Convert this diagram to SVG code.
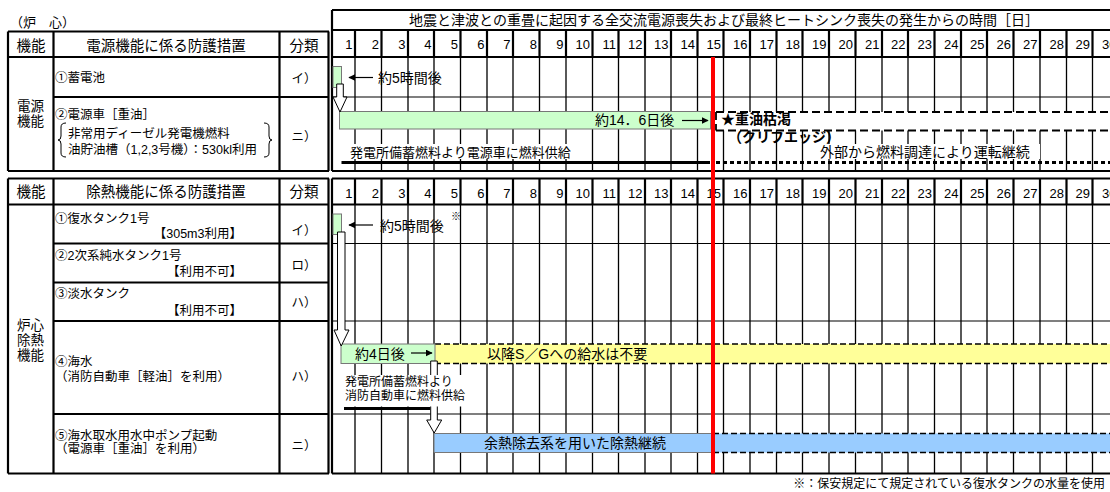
<svg xmlns="http://www.w3.org/2000/svg" width="1110" height="492" viewBox="0 0 1110 492">
<style>
text{font-family:"Liberation Sans","Noto Sans CJK JP",sans-serif;fill:#000}
.h{font-size:14.5px}
.h2{font-size:13.5px}
.t{font-size:12.5px}
.tl{font-size:14px}
.num{font-size:13px;text-anchor:end}
.c{text-anchor:middle}
.thick{stroke:#000;stroke-width:2.2;fill:none}
.thin{stroke:#000;stroke-width:1.2;fill:none}
.vl{stroke:#000;stroke-width:1.3}
.vh{stroke:#000;stroke-width:2.2}
.dash{stroke:#000;stroke-width:1.8;stroke-dasharray:8 4;fill:none}
.green{fill:#ccffcc;stroke:#777;stroke-width:1}
.blk{fill:#fff;stroke:#000;stroke-width:1}
</style>
<defs>
<marker id="ah" viewBox="0 0 10 10" refX="9" refY="5" markerWidth="7" markerHeight="7" orient="auto" markerUnits="userSpaceOnUse"><path d="M0,0 L10,5 L0,10 Z" fill="#000"/></marker>
</defs>
<rect width="1110" height="492" fill="#fff"/>

<!-- grid: timeline vertical day lines -->
<g id="grid">
<path class="vh" d="M355,31V57M381.5,31V57M408,31V57M434,31V57M460.5,31V57M487,31V57M513,31V57M539.5,31V57M566,31V57M592.5,31V57M618.5,31V57M645,31V57M671,31V57M697.5,31V57M723.5,31V57M750,31V57M776.5,31V57M802.5,31V57M829,31V57M855.5,31V57M882,31V57M908,31V57M934.5,31V57M961,31V57M987,31V57M1013.5,31V57M1040,31V57M1066.5,31V57M1092.5,31V57"/>
<path class="vl" d="M355,57V171M381.5,57V171M408,57V171M434,57V171M460.5,57V171M487,57V171M513,57V171M539.5,57V171M566,57V171M592.5,57V171M618.5,57V171M645,57V171M671,57V171M697.5,57V171M723.5,57V171M750,57V171M776.5,57V171M802.5,57V171M829,57V171M855.5,57V171M882,57V171M908,57V171M934.5,57V171M961,57V171M987,57V171M1013.5,57V171M1040,57V171M1066.5,57V171M1092.5,57V171"/>
<path class="vh" d="M355,178.5V204.5M381.5,178.5V204.5M408,178.5V204.5M434,178.5V204.5M460.5,178.5V204.5M487,178.5V204.5M513,178.5V204.5M539.5,178.5V204.5M566,178.5V204.5M592.5,178.5V204.5M618.5,178.5V204.5M645,178.5V204.5M671,178.5V204.5M697.5,178.5V204.5M723.5,178.5V204.5M750,178.5V204.5M776.5,178.5V204.5M802.5,178.5V204.5M829,178.5V204.5M855.5,178.5V204.5M882,178.5V204.5M908,178.5V204.5M934.5,178.5V204.5M961,178.5V204.5M987,178.5V204.5M1013.5,178.5V204.5M1040,178.5V204.5M1066.5,178.5V204.5M1092.5,178.5V204.5"/>
<path class="vl" d="M355,204.5V473.5M381.5,204.5V473.5M408,204.5V473.5M434,204.5V473.5M460.5,204.5V473.5M487,204.5V473.5M513,204.5V473.5M539.5,204.5V473.5M566,204.5V473.5M592.5,204.5V473.5M618.5,204.5V473.5M645,204.5V473.5M671,204.5V473.5M697.5,204.5V473.5M723.5,204.5V473.5M750,204.5V473.5M776.5,204.5V473.5M802.5,204.5V473.5M829,204.5V473.5M855.5,204.5V473.5M882,204.5V473.5M908,204.5V473.5M934.5,204.5V473.5M961,204.5V473.5M987,204.5V473.5M1013.5,204.5V473.5M1040,204.5V473.5M1066.5,204.5V473.5M1092.5,204.5V473.5"/>
<!-- timeline horizontals -->
<path class="thin" d="M332,97H1110M332,243.5H1110M332,321H1110M332,414H1110"/>
<path class="thick" d="M332,10H1110M332,30H1110M332,57H1110M332,171H1110M332,178.5H1110M332,204.5H1110M332,473.5H1110"/>
<path class="vh" d="M332,10V171M332,178.5V473.5"/>
</g>

<!-- left table -->
<g id="table-power">
<path class="thick" d="M8,31.5H329M8,57H329M53.5,97H329M8,171H329M8,31.5V171M53.5,31.5V171M279.5,31.5V171M328.5,31.5V171"/>
<text class="t" x="10" y="27" style="font-size:13px">（炉　心）</text>
<text class="h c" x="31" y="50.5">機能</text>
<text class="h c" x="166" y="50.5">電源機能に係る防護措置</text>
<text class="h c" x="304" y="50.5">分類</text>
<text class="h2" x="17" y="111">電源</text>
<text class="h2" x="17" y="126">機能</text>
<text class="t" x="55" y="82">①蓄電池</text>
<text class="t c" x="304" y="83">イ）</text>
<text class="t" x="55" y="119">②電源車［重油］</text>
<text class="t" x="68" y="137.5">非常用ディーゼル発電機燃料</text>
<text class="t" x="68" y="153.5">油貯油槽（1,2,3号機）：530kl利用</text>
<path d="M66,123 Q61,123 61,127 V136 Q61,140 58,140 Q61,140 61,144 V153 Q61,157 66,157" fill="none" stroke="#000" stroke-width="1"/>
<path d="M264,123 Q269,123 269,127 V136 Q269,140 272,140 Q269,140 269,144 V153 Q269,157 264,157" fill="none" stroke="#000" stroke-width="1"/>
<text class="t c" x="304" y="141">ニ）</text>
</g>

<g id="table-heat">
<path class="thick" d="M8,178.5H329M8,204.5H329M53.5,243.5H329M53.5,282.5H329M53.5,321H329M53.5,414H329M8,473.5H329M8,178.5V473.5M53.5,178.5V473.5M279.5,178.5V473.5M328.5,178.5V473.5"/>
<text class="h c" x="31" y="197">機能</text>
<text class="h c" x="166" y="197">除熱機能に係る防護措置</text>
<text class="h c" x="304" y="197">分類</text>
<text class="h2" x="17" y="330">炉心</text>
<text class="h2" x="17" y="345">除熱</text>
<text class="h2" x="17" y="360">機能</text>
<text class="t" x="55" y="223">①復水タンク1号</text>
<text class="t" x="242" y="238" text-anchor="end">【305m3利用】</text>
<text class="t c" x="304" y="234.5">イ）</text>
<text class="t" x="55" y="260">②2次系純水タンク1号</text>
<text class="t" x="242" y="276" text-anchor="end">【利用不可】</text>
<text class="t c" x="304" y="269.5">ロ）</text>
<text class="t" x="55" y="298">③淡水タンク</text>
<text class="t" x="242" y="314.5" text-anchor="end">【利用不可】</text>
<text class="t c" x="304" y="306.5">ハ）</text>
<text class="t" x="55" y="366">④海水</text>
<text class="t" x="55" y="380.5">（消防自動車［軽油］を利用）</text>
<text class="t c" x="304" y="380.5">ハ）</text>
<text class="t" x="55" y="439.5">⑤海水取水用水中ポンプ起動</text>
<text class="t" x="55" y="453">（電源車［重油］を利用）</text>
<text class="t c" x="304" y="449.5">ニ）</text>
</g>

<g id="header-power">
<text class="tl c" x="724" y="25">地震と津波との重畳に起因する全交流電源喪失および最終ヒートシンク喪失の発生からの時間［日］</text>
<text class="num" x="352.5" y="49">1</text><text class="num" x="379" y="49">2</text><text class="num" x="405.5" y="49">3</text><text class="num" x="431.5" y="49">4</text><text class="num" x="458" y="49">5</text><text class="num" x="484.5" y="49">6</text><text class="num" x="510.5" y="49">7</text><text class="num" x="537" y="49">8</text><text class="num" x="563.5" y="49">9</text><text class="num" x="590" y="49">10</text><text class="num" x="616" y="49">11</text><text class="num" x="642.5" y="49">12</text><text class="num" x="668.5" y="49">13</text><text class="num" x="695" y="49">14</text><text class="num" x="721" y="49">15</text><text class="num" x="747.5" y="49">16</text><text class="num" x="774" y="49">17</text><text class="num" x="800" y="49">18</text><text class="num" x="826.5" y="49">19</text><text class="num" x="853" y="49">20</text><text class="num" x="879.5" y="49">21</text><text class="num" x="905.5" y="49">22</text><text class="num" x="932" y="49">23</text><text class="num" x="958.5" y="49">24</text><text class="num" x="984.5" y="49">25</text><text class="num" x="1011" y="49">26</text><text class="num" x="1037.5" y="49">27</text><text class="num" x="1064" y="49">28</text><text class="num" x="1090" y="49">29</text><text class="num" x="1116.5" y="49">30</text>
</g>
<g id="header-heat">
<text class="num" x="352.5" y="197.5">1</text><text class="num" x="379" y="197.5">2</text><text class="num" x="405.5" y="197.5">3</text><text class="num" x="431.5" y="197.5">4</text><text class="num" x="458" y="197.5">5</text><text class="num" x="484.5" y="197.5">6</text><text class="num" x="510.5" y="197.5">7</text><text class="num" x="537" y="197.5">8</text><text class="num" x="563.5" y="197.5">9</text><text class="num" x="590" y="197.5">10</text><text class="num" x="616" y="197.5">11</text><text class="num" x="642.5" y="197.5">12</text><text class="num" x="668.5" y="197.5">13</text><text class="num" x="695" y="197.5">14</text><text class="num" x="721" y="197.5">15</text><text class="num" x="747.5" y="197.5">16</text><text class="num" x="774" y="197.5">17</text><text class="num" x="800" y="197.5">18</text><text class="num" x="826.5" y="197.5">19</text><text class="num" x="853" y="197.5">20</text><text class="num" x="879.5" y="197.5">21</text><text class="num" x="905.5" y="197.5">22</text><text class="num" x="932" y="197.5">23</text><text class="num" x="958.5" y="197.5">24</text><text class="num" x="984.5" y="197.5">25</text><text class="num" x="1011" y="197.5">26</text><text class="num" x="1037.5" y="197.5">27</text><text class="num" x="1064" y="197.5">28</text><text class="num" x="1090" y="197.5">29</text><text class="num" x="1116.5" y="197.5">30</text>
</g>

<!-- power timeline nodes -->
<g id="battery">
<rect class="green" x="333" y="66.5" width="8.5" height="21"/>
</g>
<g id="power-car">
<rect class="green" x="339.5" y="111.5" width="371" height="17.5"/>
<text class="tl" x="595" y="125">約14．6日後</text>
</g>
<g id="heavy-oil-out">
<rect x="716" y="112" width="400" height="18.5" fill="#fff" stroke="none"/>
<path class="dash" d="M716,112H1110M716,130.5H1110M716,112V130.5"/>
<text class="tl" x="721" y="124" font-weight="bold">★重油枯渇</text>
<text class="tl" x="728" y="141.5" font-weight="bold">（クリフエッジ）</text>
</g>
<g id="fuel-supply">
<rect x="347" y="144" width="232" height="15" fill="#fff"/>
<text class="t" x="350" y="156.5" style="font-size:13px">発電所備蓄燃料より電源車に燃料供給</text>
<rect x="818" y="144" width="222" height="15" fill="#fff"/>
<text class="tl" x="820" y="157">外部から燃料調達により運転継続</text>
</g>

<!-- heat timeline nodes -->
<g id="cond-tank">
<rect class="green" x="333" y="214" width="8.5" height="20.5"/>
</g>
<g id="seawater">
<rect x="435" y="344" width="675" height="19.5" fill="#ffff99"/>
<path d="M435,344H1110M435,363.5H1110" stroke="#000" stroke-width="1.5" stroke-dasharray="6 3" fill="none"/>
<rect class="green" x="341" y="344" width="94" height="19.5"/>
<text class="tl" x="355" y="358.5">約4日後</text>
<text class="tl" x="487" y="358.5">以降S／Gへの給水は不要</text>
</g>
<g id="rhr">
<rect x="434" y="433.5" width="676" height="19" fill="#99ccff"/>
<path d="M713,433.5H434V452.5H713" stroke="#777" stroke-width="1" fill="none"/>
<path d="M713,433.5H1110M713,452.5H1110" stroke="#000" stroke-width="1.5" stroke-dasharray="6 3" fill="none"/>
<text class="tl" x="484" y="447.5">余熱除去系を用いた除熱継続</text>
</g>

<!-- connectors -->
<g id="connectors">
<path d="M373,77.5H349" class="thin" marker-end="url(#ah)"/>
<path d="M682,120.5H708" class="thin" marker-end="url(#ah)"/>
<path d="M373,225H349" class="thin" marker-end="url(#ah)"/>
<path d="M411,353H432" class="thin" marker-end="url(#ah)"/>
<path class="blk" d="M336.7,84H343.3V97H347L340,112L333,97H336.7Z"/>
<path class="blk" d="M337.5,232H345V330H349L341.2,346L334,330H337.5Z"/>
<path class="blk" d="M430.7,361H437.3V420H441.7L434.2,433L426.7,420H430.7Z"/>
<path d="M341.5,162.5H710" stroke="#000" stroke-width="3"/>
<path d="M716,162.5H1110" stroke="#000" stroke-width="3" stroke-dasharray="4 3"/>
</g>
<g id="fire-fuel">
<rect x="343" y="375" width="126" height="31.5" fill="#fff"/>
<text class="t" x="345" y="386" style="font-size:12px">発電所備蓄燃料より</text>
<text class="t" x="345" y="400" style="font-size:12px">消防自動車に燃料供給</text>
<path d="M344,408.5H430" stroke="#000" stroke-width="3"/>
</g>
<g id="labels">
<text class="tl" x="378" y="83">約5時間後</text>
<text class="tl" x="380" y="231">約5時間後</text>
<text x="451" y="220" style="font-size:10px">※</text>
</g>
<!-- red line -->
<path d="M713,57V473.5" stroke="#ff0000" stroke-width="4"/>
<text x="1105" y="488" text-anchor="end" style="font-size:12px">※：保安規定にて規定されている復水タンクの水量を使用</text>
</svg>
